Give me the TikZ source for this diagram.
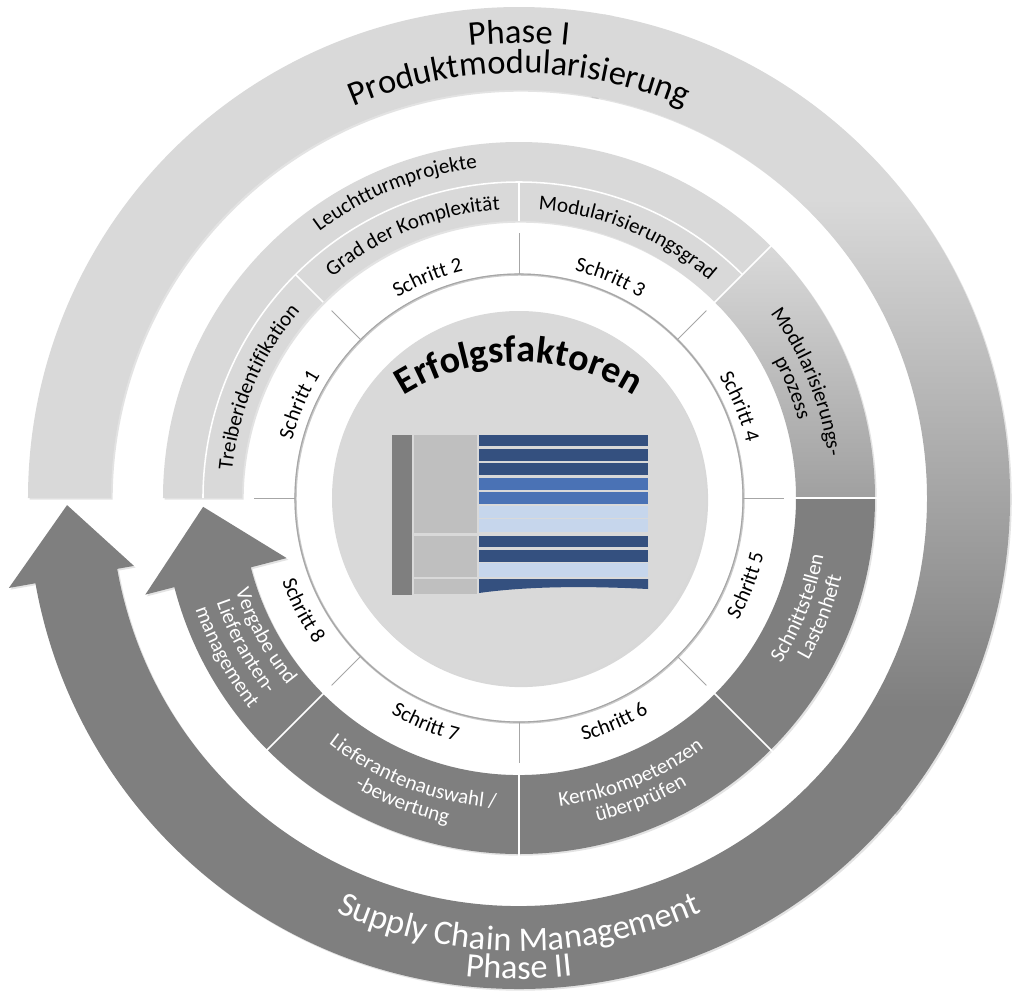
\documentclass[tikz,border=0pt]{standalone}
\usepackage{fontspec}
\setmainfont{Carlito}
\usepackage{xcolor}
\usepackage{tikz}
\usetikzlibrary{decorations.text,shadows}

\definecolor{lgray}{HTML}{D9D9D9}
\definecolor{mgray}{HTML}{A0A0A0}
\definecolor{dgray}{HTML}{7F7F7F}
\definecolor{sepgray}{HTML}{A6A6A6}
\definecolor{boxgray}{HTML}{BFBFBF}
\definecolor{bardark}{HTML}{34507F}
\definecolor{barmid}{HTML}{4A72B5}
\definecolor{barlight}{HTML}{C6D6EC}

% light-to-dark fade of the outer ring on the right side
\pgfdeclareverticalshading{outerfade}{100bp}{color(0bp)=(dgray); color(31.6bp)=(dgray); color(63.5bp)=(lgray); color(100bp)=(lgray)}

\newcommand{\ringfont}{\fontsize{15}{18}\selectfont}
\newcommand{\phasefont}{\fontsize{24.5}{28}\selectfont}
\newcommand{\erffont}{\fontsize{27}{32}\selectfont\bfseries}

\begin{document}
\begin{tikzpicture}[x=0.025cm, y=0.025cm,
  ringshadow/.style={drop shadow={opacity=0.22, shadow xshift=1.2pt, shadow yshift=-1.2pt}},
  wsep/.style={white, line width=1.1pt},
  gsep/.style={sepgray, line width=0.7pt},
  arclabel/.style={decorate, decoration={text along path, text align=center, text={#1}}},
  warclabel/.style={decorate, decoration={text along path, text align=center, text color=white, text={#1}}}]
  \fill[white] (-519,-504) rectangle (505,498);
  \useasboundingbox (-519,-504) rectangle (505,498);

  % outer ring: phase I, fading into phase II with arrow
  \fill[lgray, ringshadow] (180:408) -- (180:491) arc[start angle=180, end angle=79, radius=491] -- (79:408) arc[start angle=79, end angle=180, radius=408] -- cycle;
  \shade[shading=outerfade, ringshadow] (80:491) arc[start angle=80, end angle=-40, radius=491] -- (-40:408) arc[start angle=-40, end angle=80, radius=408] -- cycle;
  \fill[dgray, ringshadow] (-39:491) arc[start angle=-39, end angle=-170, radius=491] -- (-170:518) -- (-179.1:452) -- (-170:391) -- (-170:408) arc[start angle=-170, end angle=-39, radius=408] -- cycle;

  % inner ring with arrow
  \fill[lgray, ringshadow] (180:277) -- (180:356) arc[start angle=180, end angle=44, radius=356] -- (44:277) arc[start angle=44, end angle=180, radius=277] -- cycle;
  \shade[top color=lgray, bottom color=mgray, ringshadow] (45:356) arc[start angle=45, end angle=0, radius=356] -- (0:277) arc[start angle=0, end angle=45, radius=277] -- cycle;
  \fill[dgray, ringshadow] (0:356) arc[start angle=0, end angle=-165.5, radius=356] -- (-165.5:386) -- (-178.4:316) -- (-165.5:240) -- (-165.5:277) arc[start angle=-165.5, end angle=0, radius=277] -- cycle;

  % white separators in the ring
  \draw[wsep] (45:316) arc[start angle=45, end angle=180, radius=316];
  \draw[wsep] (0:276) -- (0:360);
  \draw[wsep] (45:276) -- (45:358);
  \draw[wsep] (90:277) -- (90:316);
  \draw[wsep] (135:277) -- (135:316);
  \draw[wsep] (-45:276) -- (-45:361);
  \draw[wsep] (-90:276) -- (-90:361);
  \draw[wsep] (-135:276) -- (-135:361);

  % step band
  \draw[sepgray!60, line width=1.6pt] (0.6,-0.6) circle[radius=224];
  \draw[sepgray, line width=0.8pt] (0,0) circle[radius=224];
  \draw[gsep] (0:224) -- (0:265);
  \draw[gsep] (45:224) -- (45:265);
  \draw[gsep] (90:224) -- (90:265);
  \draw[gsep] (135:224) -- (135:265);
  \draw[gsep] (180:224) -- (180:265);
  \draw[gsep] (-135:224) -- (-135:265);
  \draw[gsep] (-90:224) -- (-90:265);
  \draw[gsep] (-45:224) -- (-45:265);

  % centre disk and chart
  \fill[lgray, drop shadow={opacity=0.3, shadow xshift=1.5pt, shadow yshift=-1.5pt}] (0,0) circle[radius=187];
  \fill[dgray] (-127,63) rectangle (-107,-97);
  \fill[boxgray] (-105,63) rectangle (-42,-35);
  \fill[boxgray] (-105,-38) rectangle (-42,-79);
  \fill[boxgray] (-105,-81) rectangle (-42,-96);
  \fill[bardark] (-40,63) rectangle (129,52);
  \fill[bardark] (-40,49) rectangle (129,37);
  \fill[bardark] (-40,35) rectangle (129,23);
  \fill[barmid] (-40,20) rectangle (129,8);
  \fill[barmid] (-40,6) rectangle (129,-6);
  \fill[barlight] (-40,-8) rectangle (129,-20);
  \fill[barlight] (-40,-21) rectangle (129,-34);
  \fill[bardark] (-40,-38) rectangle (129,-49);
  \fill[bardark] (-40,-52) rectangle (129,-64);
  \fill[barlight] (-40,-65) rectangle (129,-79);
  \fill[bardark] (-40,-81) -- (129,-81) -- (129,-91) .. controls (70,-88) and (10,-88) .. (-40,-95) -- cycle;
  \path[arclabel={|\erffont|Erfolgsfaktoren}, shift={(0,-79)}] (140:215) arc[start angle=140, end angle=40, radius=215];

  % labels, upper half
  \path[arclabel={|\phasefont|Phase I}] (130:455) arc[start angle=130, end angle=50, radius=455];
  \path[arclabel={|\phasefont|Produktmodularisierung}] (135:425) arc[start angle=135, end angle=45, radius=425];
  \path[arclabel={|\ringfont|Leuchtturmprojekte}] (142:333) arc[start angle=142, end angle=82, radius=333];
  \path[arclabel={|\ringfont|Grad der Komplexität}] (142:289) arc[start angle=142, end angle=82, radius=289];
  \path[arclabel={|\ringfont|Modularisierungsgrad}] (97.5:289) arc[start angle=97.5, end angle=37.5, radius=289];
  \path[arclabel={|\ringfont|Treiberidentifikation}] (187:288) arc[start angle=187, end angle=127, radius=288];
  \path[arclabel={|\ringfont|Modularisierungs-}] (57:312) arc[start angle=57, end angle=-13, radius=312];
  \path[arclabel={|\ringfont|prozess}] (47:290) arc[start angle=47, end angle=-3, radius=290];
  \path[arclabel={|\ringfont|Schritt 1}] (182:234) arc[start angle=182, end angle=132, radius=234];
  \path[arclabel={|\ringfont|Schritt 2}] (137.5:234) arc[start angle=137.5, end angle=87.5, radius=234];
  \path[arclabel={|\ringfont|Schritt 3}] (92.5:234) arc[start angle=92.5, end angle=42.5, radius=234];
  \path[arclabel={|\ringfont|Schritt 4}] (47.5:234) arc[start angle=47.5, end angle=-2.5, radius=234];

  % labels, lower half
  \path[arclabel={|\ringfont|Schritt 5}] (-46:251) arc[start angle=-46, end angle=4, radius=251];
  \path[arclabel={|\ringfont|Schritt 6}] (-92:251) arc[start angle=-92, end angle=-42, radius=251];
  \path[arclabel={|\ringfont|Schritt 7}] (-137.5:251) arc[start angle=-137.5, end angle=-87.5, radius=251];
  \path[arclabel={|\ringfont|Schritt 8}] (-177.5:251) arc[start angle=-177.5, end angle=-127.5, radius=251];
  \path[warclabel={|\ringfont|Schnittstellen}] (-51.5:310) arc[start angle=-51.5, end angle=8.5, radius=310];
  \path[warclabel={|\ringfont|Lastenheft}] (-51.5:332) arc[start angle=-51.5, end angle=8.5, radius=332];
  \path[warclabel={|\ringfont|Kernkompetenzen}] (-103:311) arc[start angle=-103, end angle=-33, radius=311];
  \path[warclabel={|\ringfont|überprüfen}] (-103:333) arc[start angle=-103, end angle=-33, radius=333];
  \path[warclabel={|\ringfont|Lieferantenauswahl /}] (-146:311) arc[start angle=-146, end angle=-76, radius=311];
  \path[warclabel={|\ringfont|-bewertung}] (-146:333) arc[start angle=-146, end angle=-76, radius=333];
  \path[warclabel={|\ringfont|Vergabe und}] (-181.5:298) arc[start angle=-181.5, end angle=-121.5, radius=298];
  \path[warclabel={|\ringfont|Lieferanten-}] (-181.5:320) arc[start angle=-181.5, end angle=-121.5, radius=320];
  \path[warclabel={|\ringfont|management}] (-181.5:342) arc[start angle=-181.5, end angle=-121.5, radius=342];
  \path[warclabel={|\phasefont|Supply Chain Management}] (-130:453) arc[start angle=-130, end angle=-50, radius=453];
  \path[warclabel={|\phasefont|Phase II}] (-120:481) arc[start angle=-120, end angle=-60, radius=481];
\end{tikzpicture}
\end{document}
